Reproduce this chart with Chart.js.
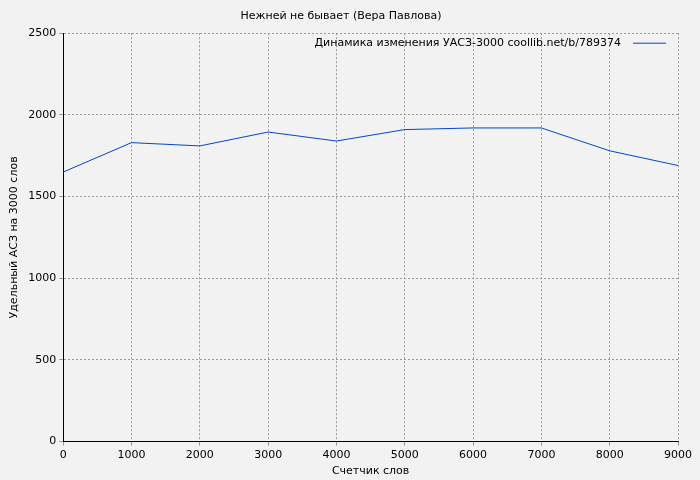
<!DOCTYPE html>
<html><head><meta charset="utf-8">
<script src="https://cdn.jsdelivr.net/npm/chart.js@4"></script>
<style>html,body{margin:0;padding:0;background:#f2f2f2}#w{width:700px;height:480px}</style>
</head><body><div id="w"><canvas id="c"></canvas></div>
<script>
const xValues=[0,1000,2000,3000,4000,5000,6000,7000,8000,9000];
const yValues=[1650,1830,1810,1895,1840,1910,1920,1920,1780,1690];
const xTicks=[0,1000,2000,3000,4000,5000,6000,7000,8000,9000];
const seriesLabel='Динамика изменения УАСЗ-3000 coollib.net/b/789374';
const legendPlugin={id:'lg',afterDraw(ch){const c=ch.ctx,a=ch.chartArea;c.save();c.font='11px "DejaVu Sans"';c.fillStyle='#000';c.textAlign='right';c.textBaseline='middle';const y=a.top+10;c.fillText(seriesLabel,a.right-57,y);c.strokeStyle='#0047c8';c.lineWidth=1;c.beginPath();c.moveTo(a.right-45,y);c.lineTo(a.right-12,y);c.stroke();c.restore();}};
const bg={id:'bg',beforeDraw(ch){const c=ch.ctx;c.save();c.fillStyle='#f2f2f2';c.fillRect(0,0,ch.width,ch.height);c.restore();}};
new Chart(document.getElementById('c'),{type:'line',
data:{datasets:[{label:seriesLabel,data:xValues.map((x,i)=>({x,y:yValues[i]})),borderColor:'#0047c8',borderWidth:1,pointRadius:0,tension:0}]},
options:{responsive:true,maintainAspectRatio:false,animation:false,
layout:{padding:{left:4,right:22,top:4,bottom:0}},
plugins:{legend:{display:false},tooltip:{enabled:false},
title:{display:true,text:'Нежней не бывает (Вера Павлова)',color:'#000',font:{family:'DejaVu Sans',size:11,weight:'normal'},padding:{top:6,bottom:10}}},
scales:{
x:{type:'linear',min:0,max:9000,afterBuildTicks:s=>{s.ticks=xTicks.map(v=>({value:v}));},
grid:{color:'#999',tickLength:4},border:{color:'#000',dash:[2,2]},
ticks:{color:'#000',font:{family:'DejaVu Sans',size:11},maxRotation:0,callback:v=>String(v)},
title:{display:true,text:'Счетчик слов',color:'#000',font:{family:'DejaVu Sans',size:11},padding:{top:0,bottom:2}}},
y:{min:0,max:2500,ticks:{stepSize:500,color:'#000',font:{family:'DejaVu Sans',size:11},callback:v=>String(v)},
grid:{color:'#999',tickLength:4},border:{color:'#000',dash:[2,2]},
title:{display:true,text:'Удельный АСЗ на 3000 слов',color:'#000',font:{family:'DejaVu Sans',size:11}}}
}},plugins:[bg,legendPlugin]});
</script>
</body></html>
